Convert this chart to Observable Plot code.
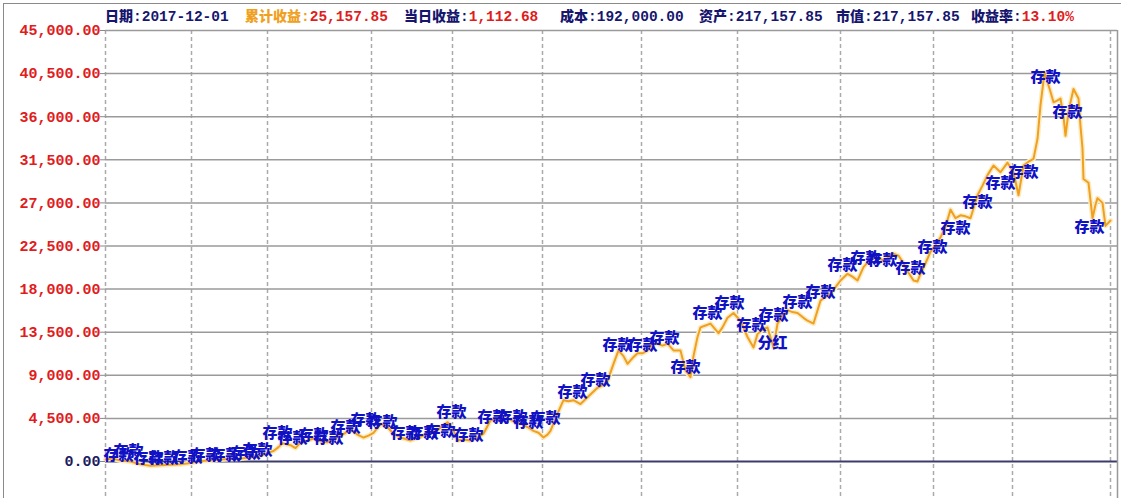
<!DOCTYPE html>
<html>
<head>
<meta charset="utf-8">
<script src="https://cdn.jsdelivr.net/npm/d3@7"></script>
<script src="https://cdn.jsdelivr.net/npm/@observablehq/plot@0.6"></script>
<style>
  html, body { margin: 0; padding: 0; background: #fff; }
  #wrap { position: relative; width: 1121px; height: 498px; overflow: hidden; }
  #chart { position: absolute; left: 0; top: 0; }
  .hdr { position: absolute; top: 7px; height: 16px; line-height: 16px; white-space: pre;
         font-family: "Liberation Mono", "Noto Sans CJK SC", monospace; font-weight: bold; font-size: 14.5px; color: #16166e; }
  .cjk { font-family: "Noto Sans CJK SC", sans-serif; font-size: 14px; font-weight: 900; }
  .red { color: #e01c1c; }
  .org { color: #f0a020; }
  .fr { position: absolute; background: #8a8a8a; }
</style>
</head>
<body>
<div id="wrap">
  <div id="chart"></div>
  <div class="fr" style="left:3px;top:3px;width:1118px;height:1px"></div>
  <div class="fr" style="left:3px;top:3px;width:1px;height:495px"></div>
  <div id="header"></div>
</div>
<script>
// Cumulative profit series: [trading-day index, cumulative profit]
const series = [
  [0,200],[7,300],[15,100],[25,0],[35,-300],[45,-450],[55,-400],[65,-350],[75,-300],[85,-150],
  [95,50],[105,100],[115,200],[125,250],[135,300],[145,450],[155,600],[162,900],[168,1100],[173,1500],
  [177,1900],[181,1800],[185,1700],[190,1400],[195,2000],[202,2200],[208,2400],[215,2100],[222,2000],[228,2300],
  [235,2700],[240,3000],[245,3400],[252,2800],[258,2500],[263,2700],[268,3000],[275,3900],[281,3700],[288,2900],
  [295,2500],[305,2200],[313,2500],[322,2900],[332,3300],[342,4100],[347,3500],[352,2200],[358,2300],[365,2200],
  [372,2500],[378,2900],[385,4300],[395,4400],[402,4500],[408,4200],[415,4000],[422,3600],[428,3200],[433,3000],
  [438,2500],[442,2800],[445,3200],[452,5000],[458,6400],[463,6300],[468,6400],[475,6000],[482,6700],[487,7200],
  [492,7700],[498,8000],[502,8400],[508,10200],[513,11600],[518,11000],[522,10200],[527,10800],[532,11300],[537,11300],
  [542,11600],[547,12300],[552,12300],[557,12100],[562,12300],[568,11600],[575,11600],[580,9500],[585,8800],[588,11000],
  [592,13000],[595,14000],[600,14200],[605,14400],[613,13400],[617,14000],[622,15000],[628,15500],[635,14700],[642,13000],
  [648,11900],[652,13300],[657,13800],[662,14000],[668,11900],[672,14400],[677,15200],[682,15800],[687,15600],[692,15500],
  [698,15000],[702,14700],[708,14400],[715,16800],[720,17200],[725,17500],[730,18200],[735,18900],[742,19600],[747,19300],
  [752,18900],[758,20300],[763,20900],[768,21300],[773,21200],[778,21000],[783,21300],[788,21700],[793,21500],[798,20700],
  [803,19700],[808,18900],[812,18800],[815,19600],[820,20700],[825,21900],[830,22600],[835,23400],[840,24500],[845,26300],
  [850,25400],[855,25700],[860,25600],[865,25400],[872,27800],[877,28800],[882,29900],[888,30900],[895,30200],[902,31200],
  [908,30200],[913,27800],[918,30900],[923,31300],[928,31600],[932,33700],[935,37200],[939,40600],[942,39600],[945,38600],
  [948,37500],[952,37700],[955,37900],[958,36000],[960,34000],[963,36500],[965,37500],[968,38900],[973,37900],[975,35000],
  [977,32700],[978,29500],[983,29100],[987,25400],[990,26800],[992,27500],[997,27000],[1000,24600],[1005,25157.85]
];

// Event annotations: [day, value, text]
const events = [
  [13,626,"存款"],[23,1044,"存款"],[43,313,"存款"],[58,313,"存款"],[82,418,"存款"],[100,626,"存款"],
  [120,626,"存款"],[140,835,"存款"],[152,1148,"存款"],[172,2923,"存款"],[187,2401,"存款"],[208,2714,"存款"],
  [223,2401,"存款"],[240,3550,"存款"],[260,4280,"存款"],[277,4072,"存款"],[300,2923,"存款"],[318,2923,"存款"],
  [335,3132,"存款"],[346,5116,"存款"],[363,2714,"存款"],[387,4594,"存款"],[407,4594,"存款"],[423,4072,"存款"],
  [440,4489,"存款"],[467,7204,"存款"],[490,8456,"存款"],[512,12110,"存款"],[537,12110,"存款"],[559,12841,"存款"],
  [580,9814,"存款"],[602,15451,"存款"],[624,16495,"存款"],[646,14198,"存款"],[668,15242,"存款"],[667,12319,"分红"],
  [692,16600,"存款"],[715,17644,"存款"],[737,20462,"存款"],[760,21193,"存款"],[777,20984,"存款"],[805,20149,"存款"],
  [827,22342,"存款"],[850,24325,"存款"],[872,27040,"存款"],[895,29023,"存款"],[918,30172,"存款"],[940,40090,"存款"],
  [962,36436,"存款"],[984,24430,"存款"]
];

// Vertical dashed separators (day index)
const gridDays = [0, 86, 162, 266, 347, 437, 536, 632, 735, 828, 907, 1005];
const lastDay = 1012;

// Y ticks
const yTicks = [0, 4500, 9000, 13500, 18000, 22500, 27000, 31500, 36000, 40500, 45000];
const yMin = -3863;

// Header items
const headerItems = [
  {label: "日期", value: "2017-12-01", labelCls: "", valueCls: "", left: 105},
  {label: "累计收益", value: "25,157.85", labelCls: "org", valueCls: "red", left: 245},
  {label: "当日收益", value: "1,112.68", labelCls: "", valueCls: "red", left: 404},
  {label: "成本", value: "192,000.00", labelCls: "", valueCls: "", left: 560},
  {label: "资产", value: "217,157.85", labelCls: "", valueCls: "", left: 699},
  {label: "市值", value: "217,157.85", labelCls: "", valueCls: "", left: 836},
  {label: "收益率", value: "13.10%", labelCls: "", valueCls: "red", left: 971}
];

const hdr = document.getElementById("header");
for (const h of headerItems) {
  const s = document.createElement("div");
  s.className = "hdr";
  s.style.left = h.left + "px";
  s.innerHTML = `<span class="cjk ${h.labelCls}">${h.label}</span><span class="${h.labelCls}">:</span><span class="${h.valueCls}">${h.value}</span>`;
  hdr.appendChild(s);
}

const fmt = d3.format(",.2f");
const axisFont = {fontSize: 15, fontWeight: "bold", fontFamily: "'Liberation Mono', monospace"};

const chart = Plot.plot({
  width: 1121,
  height: 498,
  marginLeft: 105,
  marginRight: 4,
  marginTop: 30,
  marginBottom: 0,
  x: {domain: [0, lastDay], axis: null},
  y: {domain: [yMin, 45000], axis: null},
  style: {background: "transparent", fontFamily: "'Liberation Mono', 'Noto Sans CJK SC', monospace"},
  marks: [
    Plot.ruleX(gridDays, {stroke: "#aaaaaa", strokeWidth: 1.5, strokeDasharray: "4,3"}),
    Plot.ruleY(yTicks.filter(d => d > 0), {stroke: "#9a9a9a", strokeWidth: 1.5}),
    Plot.ruleY([0], {stroke: "#3c3c6c", strokeWidth: 2}),
    Plot.ruleX([lastDay], {stroke: "#999999", strokeWidth: 1.5}),
    Plot.line(series, {x: d => d[0], y: d => d[1], stroke: "#fcecc4", strokeWidth: 5}),
    Plot.line(series, {x: d => d[0], y: d => d[1], stroke: "#f0a020", strokeWidth: 2}),
    Plot.text(events, {x: d => d[0], y: d => d[1], text: d => d[2], fill: "#1010c4", fontSize: 15, fontWeight: 900, fontFamily: "'Noto Sans CJK SC', sans-serif"}),
    Plot.axisY(yTicks.filter(d => d !== 0), {anchor: "left", tickSize: 5, tickPadding: 0, tickFormat: fmt, fill: "#e01c1c", stroke: "#888888", ...axisFont}),
    Plot.axisY([0], {anchor: "left", tickSize: 5, tickPadding: 0, tickFormat: fmt, fill: "#1b1b5e", stroke: "#888888", ...axisFont})
  ]
});
document.getElementById("chart").appendChild(chart);
</script>
</body>
</html>
